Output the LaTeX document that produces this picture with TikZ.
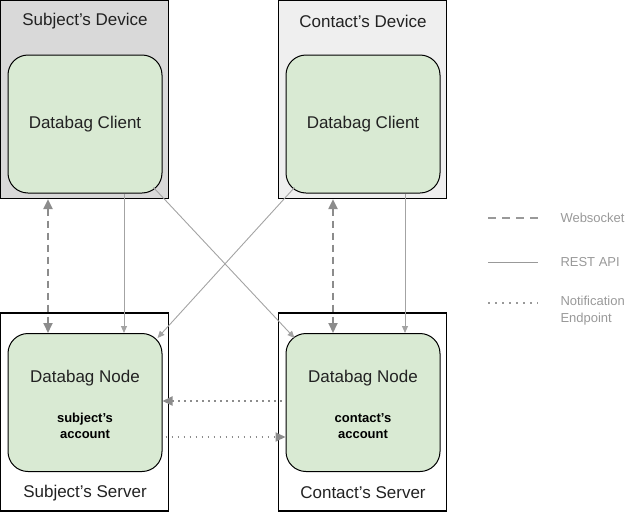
\documentclass[tikz,border=0pt]{standalone}
\usepackage{fontspec}
\setmainfont{Liberation Sans}
\usepackage{tikz}
\usetikzlibrary{positioning, arrows.meta, calc}
\definecolor{devgray}{HTML}{D9D9D9}
\definecolor{devlight}{HTML}{EFEFEF}
\definecolor{appgreen}{HTML}{D9EAD3}
\definecolor{linkgray}{HTML}{8C8C8C}
\definecolor{legendgray}{HTML}{999999}
\definecolor{textdark}{HTML}{222222}

\begin{document}
\begin{tikzpicture}[%
    x=1pt, y=-1pt,
    line width=1pt, align=center,
    box/.style={%
      draw,
      line width=1.2pt,
      minimum width=168pt,
      minimum height=198pt,
      inner sep=0pt
    },
    app/.style={%
      draw,
      fill=appgreen,
      rounded corners=20pt,
      minimum width=154pt,
      minimum height=138pt,
      text=textdark,
      font=\fontsize{17}{20}\selectfont
    },
    title/.style={inner sep=0pt, text=textdark, font=\fontsize{17}{20}\selectfont},
    account/.style={inner sep=0pt, text=black, font=\fontsize{13}{16}\selectfont\bfseries},
    ws/.style={linkgray, line width=2pt, dash pattern=on 7pt off 5pt,
      {Triangle[length=10pt,width=9pt]}-{Triangle[length=10pt,width=9pt]}},
    rest/.style={linkgray!80, line width=0.9pt, -{Triangle[length=7pt,width=6pt]}},
    notify/.style={linkgray, line width=2pt, dash pattern=on 1.8pt off 4.2pt,
      -{Triangle[length=10pt,width=9pt]}},
    legend/.style={anchor=west, inner sep=0pt, legendgray,
      font=\fontsize{13}{17}\selectfont, align=left}
  ]
    \useasboundingbox (0,0) rectangle (625,512);

    % devices and servers
    \node[box, fill=devgray] (subjDev) at (84.5,99.5) {};
    \node[box, fill=devlight] (contDev) at (362.5,99.5) {};
    \node[box] (subjSrv) at (84.5,412) {};
    \node[box] (contSrv) at (362.5,412) {};

    \node[title] (subjDevTitle) at (85,21) {Subject's Device};
    \node[title] (contDevTitle) at (363,21) {Contact's Device};
    \node[title] (subjSrvTitle) at (85,493) {Subject's Server};
    \node[title] (contSrvTitle) at (363,493) {Contact's Server};

    % apps
    \node[app] (subjClient) at (85,124) {Databag Client};
    \node[app] (contClient) at (363,124) {Databag Client};
    \node[app] (subjNode) at (85,402.5) {};
    \node[app] (contNode) at (363,402.5) {};

    \node[title] (subjNodeTitle) at ($(subjNode.center)+(0,-24)$) {Databag Node};
    \node[title] (contNodeTitle) at ($(contNode.center)+(0,-24)$) {Databag Node};
    \node[account] (subjAccount) [below=26pt of subjNodeTitle] {subject's\\account};
    \node[account] (contAccount) [below=26pt of contNodeTitle] {contact's\\account};

    % links
    \draw[ws] ([xshift=-36.5pt]subjDev.south) -- ([xshift=-37pt]subjNode.north);
    \draw[ws] ([xshift=-29.5pt]contDev.south) -- ([xshift=-30pt]contNode.north);

    \draw[rest] ([xshift=39pt]subjClient.south) -- ([xshift=39pt]subjNode.north);
    \draw[rest] ([xshift=42pt]contClient.south) -- ([xshift=42pt]contNode.north);
    \draw[rest] ($(subjClient.south east)+(-9,-6)$) -- ($(contNode.north west)+(9,5)$);
    \draw[rest] ($(contClient.south west)+(9,-6)$) -- ($(subjNode.north east)+(-5,5)$);

    \draw[notify] ([xshift=-4pt,yshift=1.5pt]contNode.west) -- ([yshift=1.5pt]subjNode.east);
    \draw[notify] ([xshift=3pt,yshift=-34.5pt]subjNode.east) -- ([yshift=-34.5pt]contNode.west);

    % legend
    \coordinate (wsA) at (488,218);
    \coordinate (wsB) at (538,218);
    \coordinate (restA) at (488,262);
    \coordinate (restB) at (538,262);
    \coordinate (notA) at (488,303);
    \coordinate (notB) at (538,303);

    \draw[legendgray, line width=2pt, dash pattern=on 8pt off 6pt] (wsA) -- (wsB);
    \draw[legendgray, line width=0.9pt] (restA) -- (restB);
    \draw[legendgray, line width=1.5pt, dash pattern=on 1.5pt off 5.5pt] (notA) -- (notB);

    \node[legend] (wsText) at (560,218) {Websocket};
    \node[legend] (restText) at (560,262) {REST API};
    \node[legend, anchor=north west] (notText) at (560,296) {Notification\\Endpoint};
\end{tikzpicture}
\end{document}
